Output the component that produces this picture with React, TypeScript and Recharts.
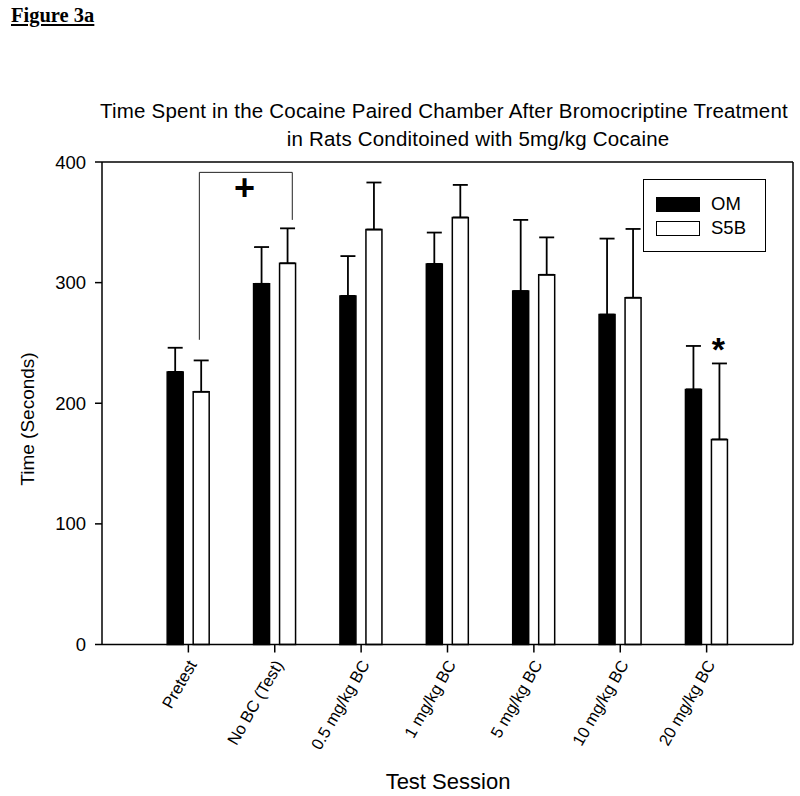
import React from 'react';
import { BarChart, Bar, XAxis, YAxis, ErrorBar, Legend, ReferenceLine, ReferenceDot } from 'recharts';

const categories = ['Pretest', 'No BC (Test)', '0.5 mg/kg BC', '1 mg/kg BC', '5 mg/kg BC', '10 mg/kg BC', '20 mg/kg BC'];
const omMean = [226, 299, 289, 315.5, 293, 273.5, 211.5];
const omSem = [20, 30.5, 33, 26, 59, 63, 36];
const s5bMean = [209.5, 316, 344, 354, 306.5, 287.5, 170];
const s5bSem = [26, 29, 39, 27, 31, 57, 63];
const yTicks = [0, 100, 200, 300, 400];
const xPositions = [1, 2, 3, 4, 5, 6, 7];

// significance annotations (data units)
const bracketLeftX = 1.127;
const bracketRightX = 2.203;
const bracketTopY = 391.4;
const bracketLeftBottomY = 252.6;
const bracketRightBottomY = 352;
const plusMark = { x: 1.65, y: 378.4 };
const starMark = { x: 7.135, y: 251 };

const data = categories.map((name, i) => ({
  x: xPositions[i],
  name,
  om: omMean[i],
  omErr: [0, omSem[i]],
  s5b: s5bMean[i],
  s5bErr: [0, s5bSem[i]],
}));

const SANS = '"Liberation Sans", Arial, sans-serif';

const XTick = (props: any) => {
  const { x, y, payload } = props;
  return (
    <text
      x={0}
      y={0}
      transform={`translate(${x + 9},${y + 10}) rotate(-60)`}
      textAnchor="end"
      fontSize={16.5}
      fontFamily={SANS}
      fill="#000"
    >
      {categories[payload.value - 1]}
    </text>
  );
};

const renderLegend = (props: any) => {
  const { payload } = props;
  return (
    <div
      style={{
        boxSizing: 'border-box',
        width: 123,
        height: 73,
        border: '1.5px solid #000',
        background: '#fff',
        position: 'relative',
        fontFamily: SANS,
      }}
    >
      {(payload || []).map((entry: any, i: number) => (
        <div
          key={entry.value}
          style={{ position: 'absolute', left: 12, top: 16 + i * 24, height: 16, display: 'flex', alignItems: 'center' }}
        >
          <div
            style={{
              boxSizing: 'border-box',
              width: 44,
              height: 15,
              background: entry.color,
              border: '1.5px solid #000',
            }}
          />
          <span style={{ marginLeft: 11, fontSize: 18.5, color: '#000', lineHeight: '16px' }}>{entry.value}</span>
        </div>
      ))}
    </div>
  );
};

const PlusShape = (props: any) => (
  <text x={props.cx} y={props.cy} dy="0.33em" textAnchor="middle" fontSize={36} fontWeight="bold" fontFamily={SANS} fill="#000">
    +
  </text>
);

const StarShape = (props: any) => (
  <text x={props.cx} y={props.cy} dy="0.57em" textAnchor="middle" fontSize={34} fontWeight="bold" fontFamily={SANS} fill="#000">
    *
  </text>
);

export default function App() {
  return (
    <div style={{ position: 'absolute', left: 0, top: 0, width: 800, height: 796, background: '#fff', overflow: 'hidden' }}>
      <div
        style={{
          position: 'absolute',
          left: 11,
          top: 5,
          fontFamily: '"Liberation Serif", "Times New Roman", serif',
          fontWeight: 'bold',
          fontSize: 20.5,
          lineHeight: 1,
          textDecoration: 'underline',
          color: '#000',
        }}
      >
        Figure 3a
      </div>
      <div
        style={{
          position: 'absolute',
          left: 444,
          top: 101,
          transform: 'translateX(-50%)',
          whiteSpace: 'nowrap',
          fontFamily: SANS,
          fontSize: 20.5,
          letterSpacing: 0.2,
          lineHeight: 1,
          color: '#000',
        }}
      >
        Time Spent in the Cocaine Paired Chamber After Bromocriptine Treatment
      </div>
      <div
        style={{
          position: 'absolute',
          left: 478,
          top: 129,
          transform: 'translateX(-50%)',
          whiteSpace: 'nowrap',
          fontFamily: SANS,
          fontSize: 20.5,
          letterSpacing: 0.2,
          lineHeight: 1,
          color: '#000',
        }}
      >
        in Rats Conditoined with 5mg/kg Cocaine
      </div>
      <div
        style={{
          position: 'absolute',
          left: 27,
          top: 419,
          transform: 'translate(-50%, -50%) rotate(-90deg)',
          whiteSpace: 'nowrap',
          fontFamily: SANS,
          fontSize: 19,
          lineHeight: 1,
          color: '#000',
        }}
      >
        Time (Seconds)
      </div>
      <div
        style={{
          position: 'absolute',
          left: 448,
          top: 781.5,
          transform: 'translate(-50%, -50%)',
          whiteSpace: 'nowrap',
          fontFamily: SANS,
          fontSize: 22,
          lineHeight: 1,
          color: '#000',
        }}
      >
        Test Session
      </div>
      <div style={{ position: 'absolute', left: 0, top: 0 }}>
        <BarChart
          width={800}
          height={796}
          data={data}
          margin={{ top: 162, right: 7, left: 42, bottom: 51.5 }}
          barGap={10}
          barSize={16}
        >
          <XAxis
            dataKey="x"
            type="number"
            domain={[0, 8]}
            ticks={xPositions}
            interval={0}
            height={100}
            tick={<XTick />}
            tickSize={8}
            tickMargin={2}
            axisLine={{ stroke: '#000', strokeWidth: 1.5 }}
            tickLine={{ stroke: '#000', strokeWidth: 1.5 }}
          />
          <YAxis
            type="number"
            domain={[0, 400]}
            ticks={yTicks}
            width={60}
            tickSize={7}
            tickMargin={9}
            tick={{ fontSize: 18.5, fill: '#000', fontFamily: SANS }}
            axisLine={{ stroke: '#000', strokeWidth: 1.5 }}
            tickLine={{ stroke: '#000', strokeWidth: 1.5 }}
          />
          <ReferenceLine y={400} stroke="#000" strokeWidth={1.5} />
          <ReferenceLine x={8} stroke="#000" strokeWidth={1.5} />
          <Bar dataKey="om" name="OM" fill="#000" stroke="#000" strokeWidth={1.5} isAnimationActive={false}>
            <ErrorBar dataKey="omErr" direction="y" width={7.5} stroke="#000" strokeWidth={1.8} isAnimationActive={false} />
          </Bar>
          <Bar dataKey="s5b" name="S5B" fill="#fff" stroke="#000" strokeWidth={1.5} isAnimationActive={false}>
            <ErrorBar dataKey="s5bErr" direction="y" width={7.5} stroke="#000" strokeWidth={1.8} isAnimationActive={false} />
          </Bar>
          <ReferenceLine
            segment={[
              { x: bracketLeftX, y: bracketLeftBottomY },
              { x: bracketLeftX, y: bracketTopY },
            ]}
            stroke="#222"
            strokeWidth={1}
          />
          <ReferenceLine
            segment={[
              { x: bracketLeftX, y: bracketTopY },
              { x: bracketRightX, y: bracketTopY },
            ]}
            stroke="#222"
            strokeWidth={1}
          />
          <ReferenceLine
            segment={[
              { x: bracketRightX, y: bracketTopY },
              { x: bracketRightX, y: bracketRightBottomY },
            ]}
            stroke="#222"
            strokeWidth={1}
          />
          <ReferenceDot x={plusMark.x} y={plusMark.y} r={0} shape={<PlusShape />} />
          <ReferenceDot x={starMark.x} y={starMark.y} r={0} shape={<StarShape />} />
          <Legend
            layout="vertical"
            align="center"
            verticalAlign="middle"
            wrapperStyle={{ position: 'absolute', top: 179, left: 643, width: 123, height: 73 }}
            content={renderLegend}
          />
        </BarChart>
      </div>
    </div>
  );
}
